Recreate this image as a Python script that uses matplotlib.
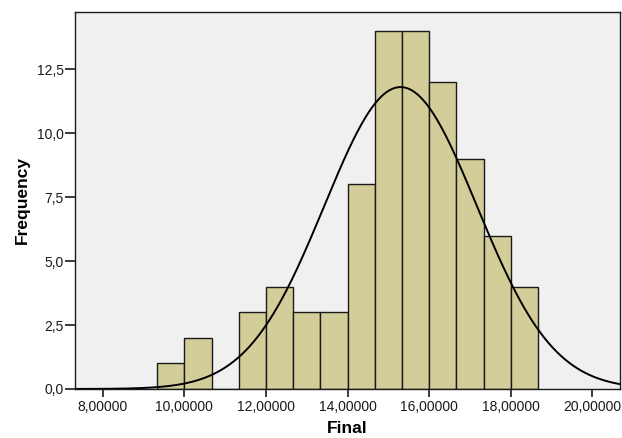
#!/usr/bin/env python3
"""
Histogram of Final scores with fitted normal curve (SPSS style)
"""

import numpy as np
import matplotlib
matplotlib.use('Agg')
import matplotlib.pyplot as plt

# Bin layout (width 2/3, first edge 9.333)
bin_start = 28 / 3
bin_width = 2 / 3
counts = [1, 2, 0, 3, 4, 3, 3, 8, 14, 14, 12, 9, 6, 4]

# Normal curve parameters
curve_mean = 15.30
curve_sd = 1.87

x_ticks = [8, 10, 12, 14, 16, 18, 20]
y_ticks = [0, 2.5, 5.0, 7.5, 10.0, 12.5]


def comma(v, nd):
    return f"{v:.{nd}f}".replace('.', ',')


def main():
    plt.rcParams['font.family'] = ['Liberation Sans', 'DejaVu Sans']

    fig = plt.figure(figsize=(6.22, 4.38), dpi=100)
    ax = fig.add_axes([0.1206, 0.1119, 0.8756, 0.8607])
    ax.set_facecolor('#F0F0F0')

    n = len(counts)
    edges = bin_start + bin_width * np.arange(n)
    ax.bar(edges, counts, width=bin_width, align='edge',
           color='#D3CE99', edgecolor='#1a1a1a', linewidth=1.0, zorder=2)

    # Fitted normal curve scaled by N * bin width
    total = sum(counts)
    xs = np.linspace(7.32, 20.67, 400)
    ys = total * bin_width / (curve_sd * np.sqrt(2 * np.pi)) * \
        np.exp(-0.5 * ((xs - curve_mean) / curve_sd) ** 2)
    ax.plot(xs, ys, color='black', linewidth=1.4, zorder=3)

    ax.set_xlim(7.32, 20.67)
    ax.set_ylim(0, 14.74)

    ax.set_xticks(x_ticks)
    ax.set_xticklabels([comma(v, 5) for v in x_ticks])
    ax.set_yticks(y_ticks)
    ax.set_yticklabels([comma(v, 1) for v in y_ticks])
    ax.tick_params(axis='both', direction='out', labelsize=10, color='#1a1a1a',
                   labelcolor='#1a1a1a')
    ax.tick_params(axis='y', length=7, width=1.2, pad=1)
    ax.tick_params(axis='x', length=6, width=1.2, pad=2)

    for sp in ax.spines.values():
        sp.set_color('#1a1a1a')
        sp.set_linewidth(1.0)

    ax.set_xlabel('Final', fontsize=12.5, fontweight='bold', labelpad=5)
    ax.set_ylabel('Frequency', fontsize=12.5, fontweight='bold', labelpad=5)

    fig.savefig('out.png', dpi=100)
    plt.close(fig)


if __name__ == "__main__":
    main()
